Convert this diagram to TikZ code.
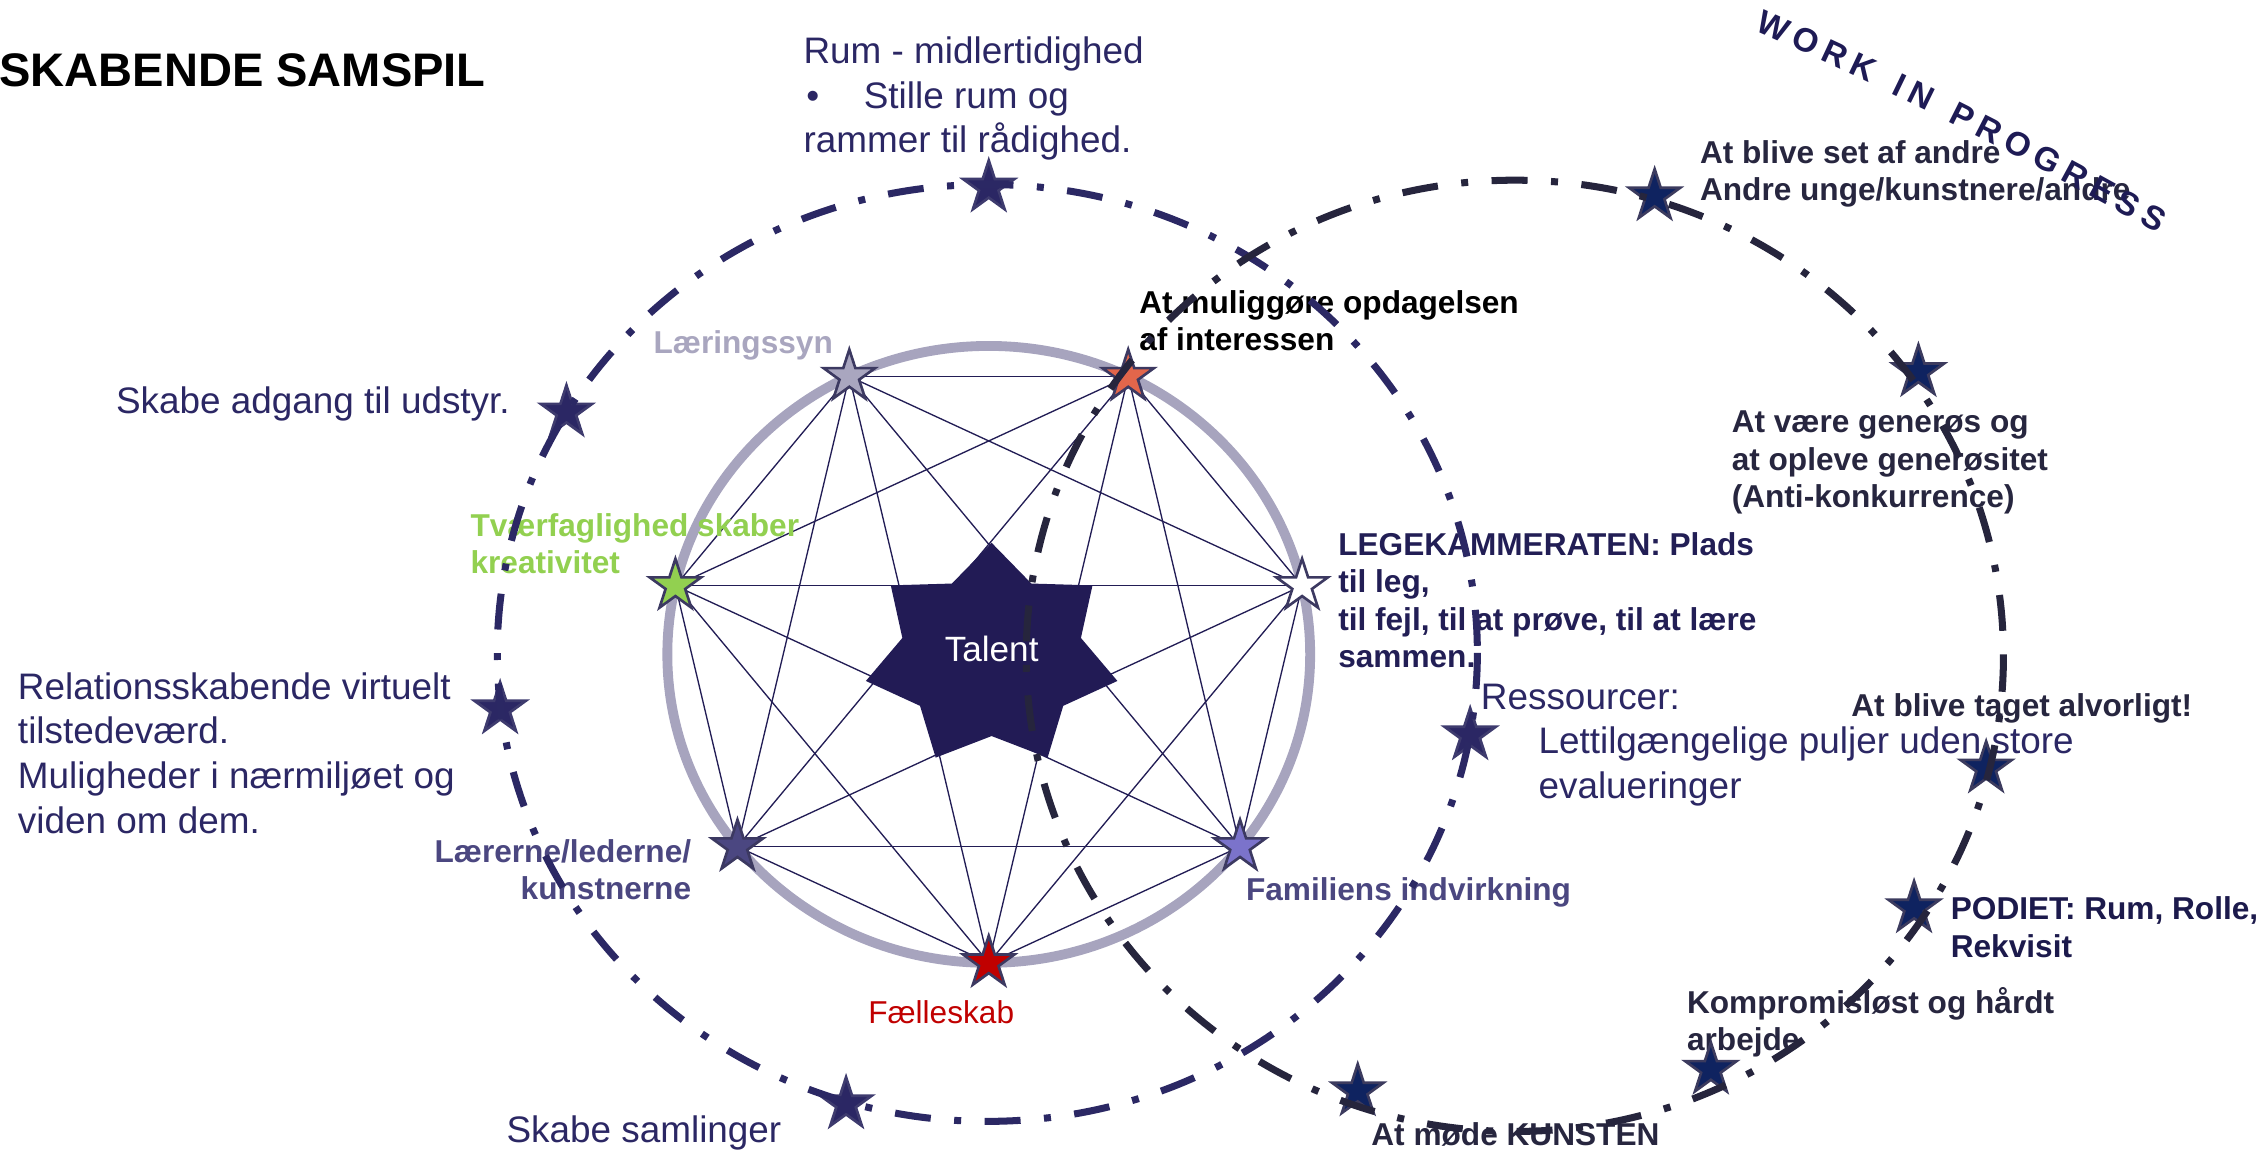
\documentclass[tikz,border=0pt]{standalone}
\usepackage{fontspec}
\setmainfont{Liberation Sans}
\usetikzlibrary{shapes.geometric,decorations.text}
\definecolor{navytxt}{HTML}{2B2764}
\definecolor{darktxt}{HTML}{27263F}
\definecolor{legetxt}{HTML}{221E55}
\definecolor{podtxt}{HTML}{1C1A4C}
\definecolor{graylbl}{HTML}{A9A6BF}
\definecolor{greenlbl}{HTML}{92D050}
\definecolor{purplbl}{HTML}{4B4780}
\definecolor{redlbl}{HTML}{C00000}
\definecolor{ringcol}{HTML}{A7A4BE}
\definecolor{kcol}{HTML}{221D55}
\definecolor{talentcol}{HTML}{221B55}
\definecolor{leftdash}{HTML}{2B2864}
\definecolor{rightdash}{HTML}{26253D}
\definecolor{lfill}{HTML}{2B2764}
\definecolor{lline}{HTML}{3E3B6E}
\definecolor{rfill}{HTML}{0F2360}
\definecolor{rline}{HTML}{3C3B5E}
\definecolor{starline}{HTML}{3C3961}
\definecolor{hOrange}{HTML}{E2664B}
\definecolor{hLav}{HTML}{7B73CB}
\definecolor{hDark}{HTML}{4B4781}
\definecolor{wipcol}{HTML}{1E1B55}
\tikzset{
  ttl/.style={inner sep=0, font=\fontsize{13.4}{16}\selectfont\bfseries, text=black},
  reg/.style={inner sep=0, align=left, font=\fontsize{10.5}{12.7}\selectfont, text=navytxt},
  bld/.style={inner sep=0, align=left, font=\fontsize{9}{10.6}\selectfont\bfseries, text=darktxt},
  hstar/.style={star, star points=5, star point ratio=2.618, minimum size=0.54cm, inner sep=0, draw=starline, line width=0.75pt},
  lstar/.style={hstar, fill=lfill, draw=lline},
  rstar/.style={hstar, fill=rfill, draw=rline},
  dashdot/.style={line width=2pt, dash pattern=on 0.36cm off 0.235cm on 0.07cm off 0.235cm},
  kline/.style={draw=kcol, line width=0.38pt},
}
\begin{document}
\begin{tikzpicture}[x=0.014413cm, y=-0.014413cm]
\useasboundingbox (0,0) rectangle (1568,798);

% gray ring
\draw[ringcol, line width=2.8pt] (686,454) ellipse [x radius=223, y radius=214];

% heptagon points
\foreach \n/\a in {1/115.714, 2/64.286, 3/12.857, 4/-38.571, 5/-90, 6/-141.429, 7/167.143}
  \coordinate (h\n) at ({686+223*cos(\a)}, {454-214*sin(\a)});

% complete graph
\foreach \i in {1,...,6} {
  \pgfmathtruncatemacro\s{\i+1}
  \foreach \j in {\s,...,7} \draw[kline] (h\i) -- (h\j);
}

% Talent star
\fill[talentcol] plot[samples at={0,1,...,13}]
  ({688+89.5*(1-0.29*mod(\x,2))*cos(90+\x*360/14)}, {455-78.4*(1-0.29*mod(\x,2))*sin(90+\x*360/14)}) -- cycle;
\node[inner sep=0, font=\fontsize{10}{12}\selectfont, text=white] (talent) at (688,450) {Talent};

% heptagon stars
\node[hstar, fill=graylbl] (hs1) at (h1) {};
\node[hstar, fill=hOrange] (hs2) at (h2) {};
\node[hstar, fill=white] (hs3) at (h3) {};
\node[hstar, fill=hLav] (hs4) at (h4) {};
\node[hstar, fill=redlbl] (hs5) at (h5) {};
\node[hstar, fill=hDark] (hs6) at (h6) {};
\node[hstar, fill=greenlbl] (hs7) at (h7) {};

% labels (multi-line nodes: base = baseline of last line)
\node[ttl, anchor=base west] (title) at (-1,60) {SKABENDE SAMSPIL};
\node[reg, anchor=base west] (rum) at (557,106) {Rum - midlertidighed\\\hspace*{0.8pt}•\hspace*{12.7pt}Stille rum og\\rammer til rådighed.};
\node[reg, anchor=base west] (udstyr) at (80,287) {Skabe adgang til udstyr.};
\node[reg, anchor=base west] (relation) at (12,578) {Relationsskabende virtuelt\\tilstedeværd.\\Muligheder i nærmiljøet og\\viden om dem.};
\node[reg, anchor=base west] (samlinger) at (351,793) {Skabe samlinger};
\node[bld, text=graylbl, anchor=base west] (laering) at (453,245) {Læringssyn};
\node[bld, text=black, anchor=base west] (muligg) at (790,243) {At muliggøre opdagelsen\\af interessen};
\node[bld, text=greenlbl, anchor=base west] (tvaer) at (326,398) {Tværfaglighed skaber\\kreativitet};
\node[bld, text=legetxt, anchor=base west] (lege) at (928,463) {LEGEKAMMERATEN: Plads\\til leg,\\til fejl, til at prøve, til at lære\\sammen.};
\node[reg, anchor=base west] (ress) at (1027,554) {Ressourcer:\\\hspace*{16.4pt}Lettilgængelige puljer uden store\\\hspace*{16.4pt}evalueringer};
\node[bld, text=purplbl, anchor=base east, align=right] (laerer) at (480,624) {Lærerne/lederne/\\kunstnerne};
\node[reg, text=redlbl, font=\fontsize{9}{10.6}\selectfont, anchor=base] (faelles) at (653,710) {Fælleskab};
\node[bld, text=purplbl, anchor=base west] (famil) at (864,625) {Familiens indvirkning};
\node[bld, anchor=base west] (setaf) at (1179,139) {At blive set af andre\\Andre unge/kunstnere/andre};
\node[bld, anchor=base west] (generos) at (1201,352) {At være generøs og\\at opleve generøsitet\\(Anti-konkurrence)};
\node[bld, anchor=base west] (alvor) at (1284,497) {At blive taget alvorligt!};
\node[bld, text=podtxt, anchor=base west] (podiet) at (1353,664) {PODIET: Rum, Rolle,\\Rekvisit};
\node[bld, anchor=base west] (kompr) at (1170,729) {Kompromisløst og hårdt\\arbejde};
\node[bld, anchor=base west] (kunsten) at (951,795) {At møde KUNSTEN};

% stars on the dashed rings
\node[lstar] (l1) at (686,130) {};
\node[lstar] (l2) at (393,286) {};
\node[lstar] (l3) at (347,492) {};
\node[lstar] (l4) at (587,766) {};
\node[lstar] (l5) at (1020,510) {};
\node[rstar] (r1) at (1148,136) {};
\node[rstar] (r2) at (1331,258) {};
\node[rstar] (r3) at (1378,533) {};
\node[rstar] (r4) at (1328,630) {};
\node[rstar] (r5) at (1187,742) {};
\node[rstar] (r6) at (942,757) {};

% dashed rings
\draw[dashdot, leftdash] (685,453) ellipse [x radius=340, y radius=325];
\draw[dashdot, rightdash] (1051,455) ellipse [x radius=339, y radius=330];

% curved heading
\path[decorate, decoration={text along path,
  text={|\fontsize{9.5}{11}\selectfont\bfseries\color{wipcol}|WORK IN PROGRESS},
  text align=fit to path}]
  (1217,21) .. controls (1310,62) and (1404,109) .. (1497,162);
\end{tikzpicture}
\end{document}
